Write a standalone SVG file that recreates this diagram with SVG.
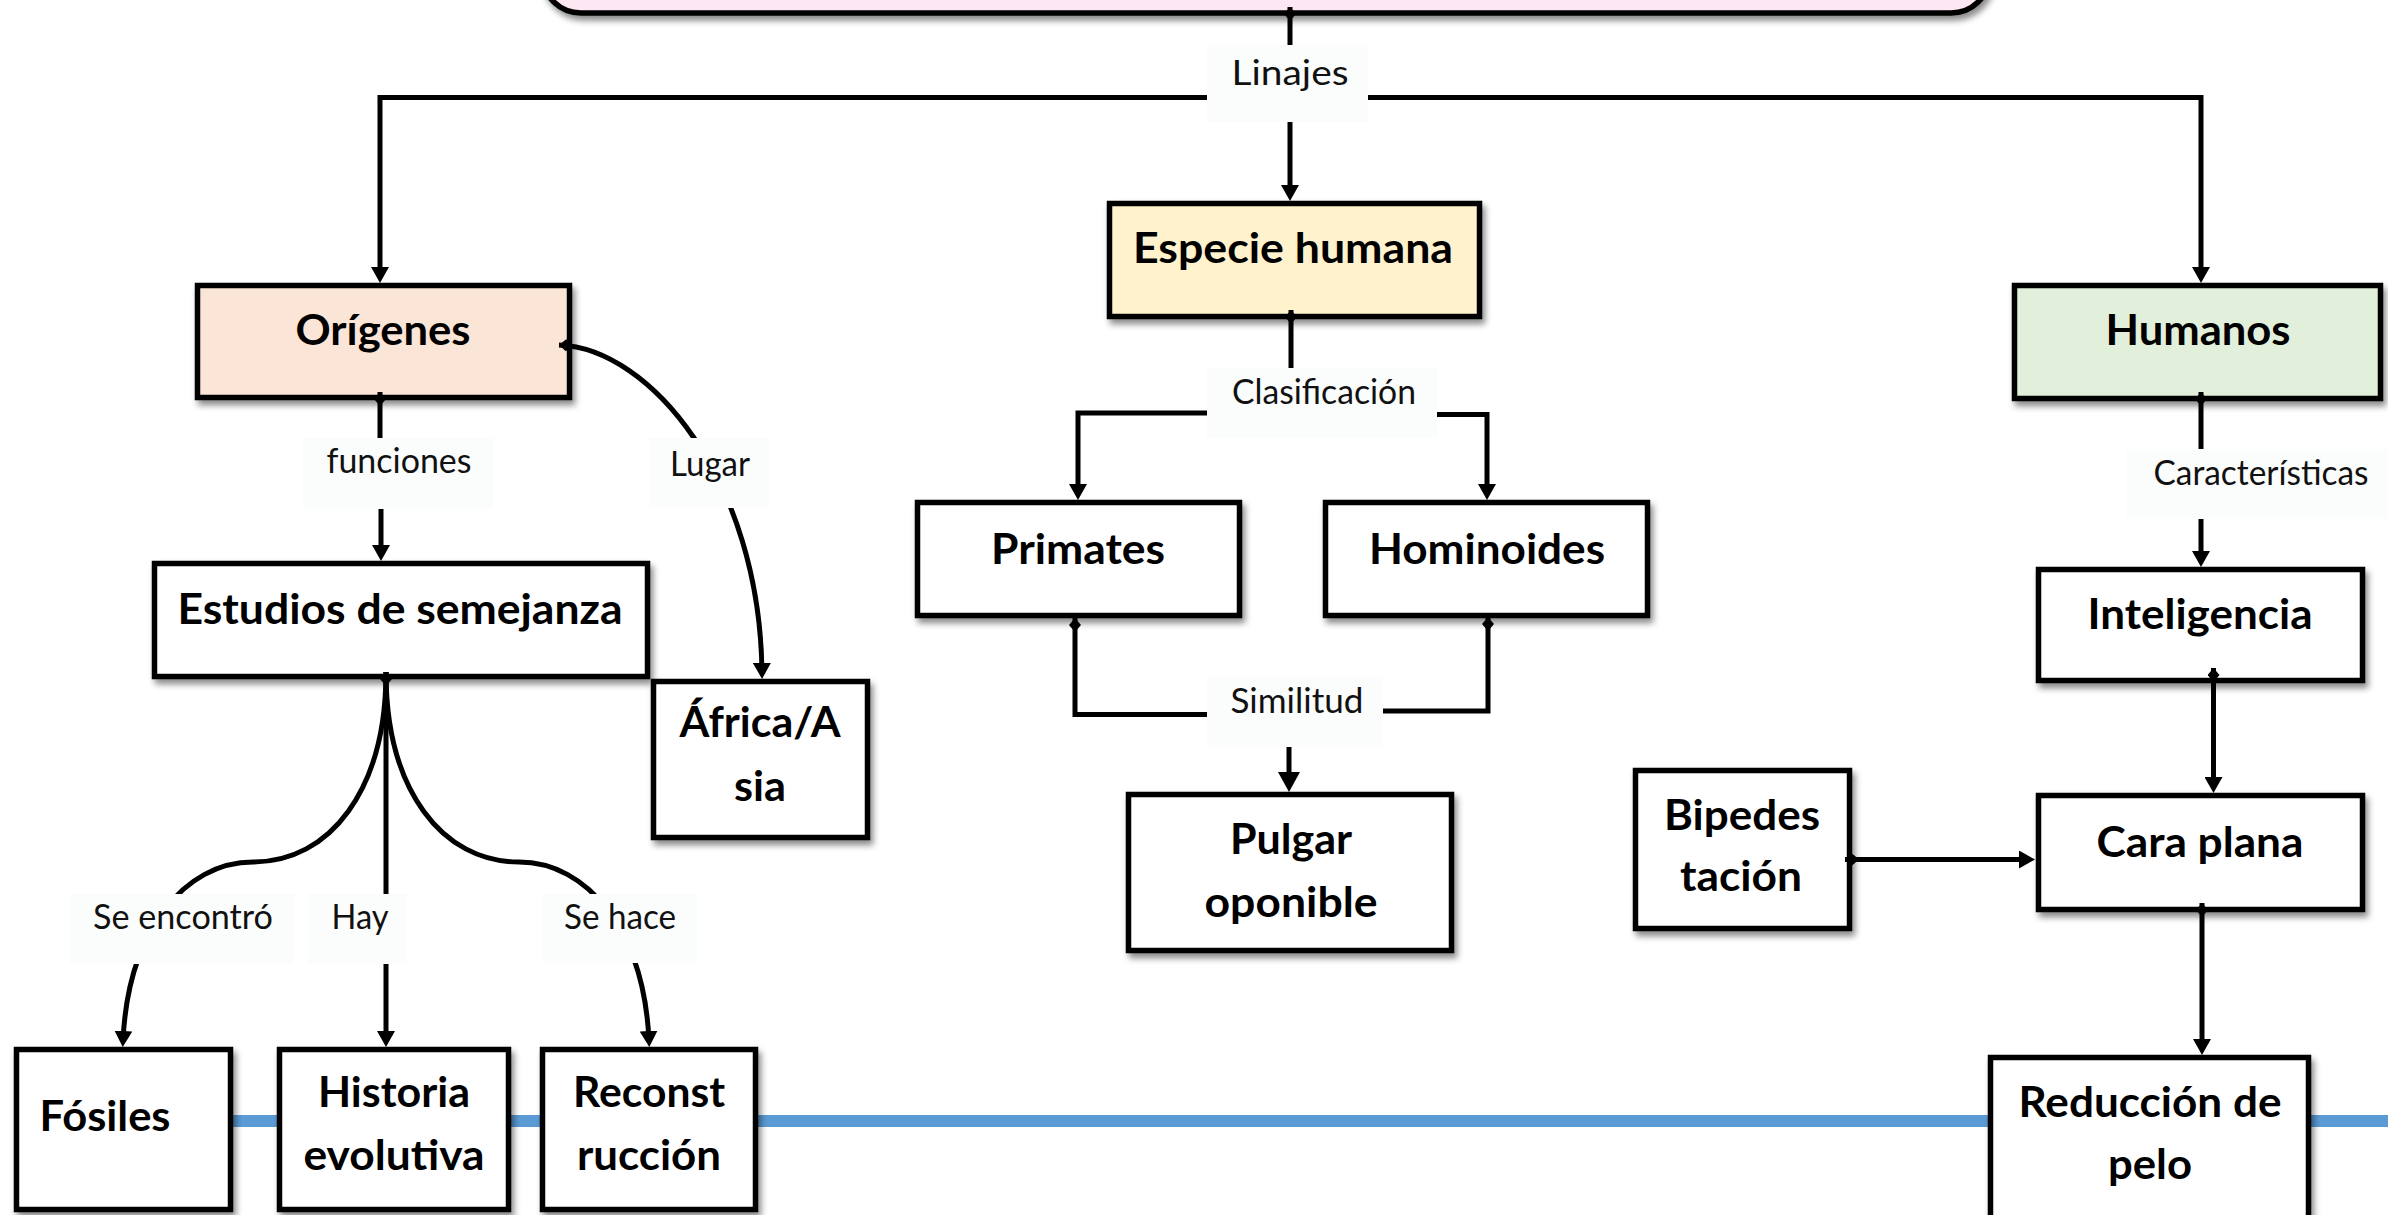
<svg xmlns="http://www.w3.org/2000/svg" width="2388" height="1215" viewBox="0 0 2388 1215">
<defs>
<style>
.node{stroke:#000;stroke-width:5.5;filter:url(#sh)}
.w{fill:#fff}
.nt{font-family:Lato,"Liberation Sans",sans-serif;font-weight:bold;font-size:42px;fill:#000;text-anchor:middle}
.c{fill:none;stroke:#000;stroke-width:5}
.lb{fill:#FBFCFC}
.lt{font-family:Lato,"Liberation Sans",sans-serif;font-size:35px;fill:#111;text-anchor:middle}
</style>
<filter id="sh" x="-10%" y="-10%" width="130%" height="140%">
<feDropShadow dx="3" dy="5" stdDeviation="3" flood-color="#000" flood-opacity="0.45"/>
</filter>
<marker id="ar" markerUnits="userSpaceOnUse" viewBox="0 0 16 18" refX="10" refY="9" markerWidth="16" markerHeight="18" orient="auto">
<path d="M0,0 L16,9 L0,18 z" fill="#000"/>
</marker>
<marker id="arL" markerUnits="userSpaceOnUse" viewBox="0 0 20 22" refX="10" refY="11" markerWidth="20" markerHeight="22" orient="auto">
<path d="M0,0 L20,11 L0,22 z" fill="#000"/>
</marker>
<marker id="dm" markerUnits="userSpaceOnUse" viewBox="0 0 14 12" refX="0" refY="6" markerWidth="14" markerHeight="12" orient="auto">
<path d="M0,6 L7,0 L14,6 L7,12 z" fill="#000"/>
</marker>
</defs>
<rect width="2388" height="1215" fill="#fff"/>
<line id="timeline" x1="20" y1="1121" x2="2388" y2="1121" stroke="#5B9BD5" stroke-width="12"/>

<g id="top">
<rect class="node" x="543" y="-60" width="1446" height="73" rx="38" fill="#FDE7F3" stroke-width="6"/>
</g>
<g id="origenes"><rect class="node" x="197.5" y="285.5" width="372" height="112" fill="#FBE5D6"/><text class="nt" x="383" y="345" textLength="175" lengthAdjust="spacingAndGlyphs">Orígenes</text></g>
<g id="especie"><rect class="node" x="1109.5" y="203.5" width="370" height="113" fill="#FFF2CC"/><text class="nt" x="1293" y="263" textLength="320" lengthAdjust="spacingAndGlyphs">Especie humana</text></g>
<g id="humanos"><rect class="node" x="2014.5" y="285.5" width="366" height="113" fill="#E2EFDA"/><text class="nt" x="2198" y="345" textLength="185" lengthAdjust="spacingAndGlyphs">Humanos</text></g>
<g id="estudios"><rect class="node w" x="154.5" y="563.5" width="493" height="113"/><text class="nt" x="400" y="624" textLength="445" lengthAdjust="spacingAndGlyphs">Estudios de semejanza</text></g>
<g id="africa"><rect class="node w" x="653.5" y="681.5" width="214" height="156"/><text class="nt" x="760" y="737" textLength="161" lengthAdjust="spacingAndGlyphs">África/A</text><text class="nt" x="760" y="801" textLength="52" lengthAdjust="spacingAndGlyphs">sia</text></g>
<g id="fosiles"><rect class="node w" x="16.5" y="1049.5" width="214" height="160"/><text class="nt" x="105" y="1131" textLength="131" lengthAdjust="spacingAndGlyphs">Fósiles</text></g>
<g id="historia"><rect class="node w" x="279.5" y="1049.5" width="229" height="160"/><text class="nt" x="394" y="1107" textLength="152" lengthAdjust="spacingAndGlyphs">Historia</text><text class="nt" x="394" y="1170" textLength="181" lengthAdjust="spacingAndGlyphs">evolutiva</text></g>
<g id="reconstruccion"><rect class="node w" x="542.5" y="1049.5" width="213" height="160"/><text class="nt" x="649" y="1107" textLength="152" lengthAdjust="spacingAndGlyphs">Reconst</text><text class="nt" x="649" y="1170" textLength="144" lengthAdjust="spacingAndGlyphs">rucción</text></g>
<g id="primates"><rect class="node w" x="917.5" y="502.5" width="322" height="113"/><text class="nt" x="1078" y="564" textLength="174" lengthAdjust="spacingAndGlyphs">Primates</text></g>
<g id="hominoides"><rect class="node w" x="1325.5" y="502.5" width="322" height="113"/><text class="nt" x="1487" y="564" textLength="236" lengthAdjust="spacingAndGlyphs">Hominoides</text></g>
<g id="pulgar"><rect class="node w" x="1128.5" y="794.5" width="323" height="156"/><text class="nt" x="1291" y="854" textLength="122" lengthAdjust="spacingAndGlyphs">Pulgar</text><text class="nt" x="1291" y="917" textLength="173" lengthAdjust="spacingAndGlyphs">oponible</text></g>
<g id="bipedestacion"><rect class="node w" x="1635.5" y="770.5" width="214" height="158"/><text class="nt" x="1742" y="830" textLength="156" lengthAdjust="spacingAndGlyphs">Bipedes</text><text class="nt" x="1741" y="891" textLength="122" lengthAdjust="spacingAndGlyphs">tación</text></g>
<g id="inteligencia"><rect class="node w" x="2038.5" y="569.5" width="324" height="111"/><text class="nt" x="2200" y="629" textLength="225" lengthAdjust="spacingAndGlyphs">Inteligencia</text></g>
<g id="caraplana"><rect class="node w" x="2038.5" y="795.5" width="324" height="114"/><text class="nt" x="2200" y="857" textLength="207" lengthAdjust="spacingAndGlyphs">Cara plana</text></g>
<g id="reduccion"><rect class="node w" x="1990.5" y="1057.5" width="318" height="170"/><text class="nt" x="2150" y="1117" textLength="263" lengthAdjust="spacingAndGlyphs">Reducción de</text><text class="nt" x="2150" y="1179" textLength="84" lengthAdjust="spacingAndGlyphs">pelo</text></g>

<g id="connectors">
<path class="c" d="M1290,7 V45" stroke-width="6" marker-start="url(#dm)"/>
<path class="c" d="M1207,97.5 H380 V277" marker-end="url(#ar)"/>
<path class="c" d="M1368,97.5 H2201 V277" marker-end="url(#ar)"/>
<path class="c" d="M1290,122 V195" marker-end="url(#ar)"/>
<path class="c" d="M380,392 V438" marker-start="url(#dm)"/>
<path class="c" d="M381,509 V555" marker-end="url(#ar)"/>
<path class="c" d="M559,345 C650,348 760,480 762,673" marker-start="url(#dm)" marker-end="url(#ar)"/>
<path class="c" d="M386,672 C386,790 330,862 253,862 C185,862 128,930 123,1041" marker-start="url(#dm)" marker-end="url(#ar)"/>
<path class="c" d="M386,672 V1041" marker-end="url(#ar)"/>
<path class="c" d="M386,672 C386,790 442,862 519,862 C587,862 644,930 649,1041" marker-end="url(#ar)"/>
<path class="c" d="M1291,310 V368" marker-start="url(#dm)"/>
<path class="c" d="M1207,413 H1078 V494" marker-end="url(#ar)"/>
<path class="c" d="M1437,414.5 H1487 V494" marker-end="url(#ar)"/>
<path class="c" d="M1075,618 V714.5 H1207" marker-start="url(#dm)"/>
<path class="c" d="M1488,617 V711 H1383" marker-start="url(#dm)"/>
<path class="c" d="M1289,747 V782" stroke-width="10" marker-end="url(#arL)"/>
<path class="c" d="M2201,392 V449" marker-start="url(#dm)"/>
<path class="c" d="M2201,519 V561" marker-end="url(#ar)"/>
<path class="c" d="M2213.5,668 V787" marker-start="url(#dm)" marker-end="url(#ar)"/>
<path class="c" d="M1845,859.5 H2029" marker-start="url(#dm)" marker-end="url(#ar)"/>
<path class="c" d="M2202,903 V1049" marker-start="url(#dm)" marker-end="url(#ar)"/>
</g>

<g id="labels">
<rect class="lb" x="1207" y="45" width="161" height="77"/><text class="lt" x="1290" y="85" textLength="117" lengthAdjust="spacingAndGlyphs">Linajes</text>
<rect class="lb" x="303" y="438" width="190" height="71"/><text class="lt" x="399" y="473" textLength="145" lengthAdjust="spacingAndGlyphs">funciones</text>
<rect class="lb" x="649" y="438" width="120" height="70"/><text class="lt" x="710" y="476" textLength="80" lengthAdjust="spacingAndGlyphs">Lugar</text>
<rect class="lb" x="70" y="894" width="224" height="70"/><text class="lt" x="183" y="929" textLength="180" lengthAdjust="spacingAndGlyphs">Se encontró</text>
<rect class="lb" x="308" y="894" width="99" height="70"/><text class="lt" x="360" y="929" textLength="57" lengthAdjust="spacingAndGlyphs">Hay</text>
<rect class="lb" x="542" y="894" width="155" height="69"/><text class="lt" x="620" y="929" textLength="112" lengthAdjust="spacingAndGlyphs">Se hace</text>
<rect class="lb" x="1207" y="368" width="230" height="70"/><text class="lt" x="1324" y="404" textLength="184" lengthAdjust="spacingAndGlyphs">Clasificación</text>
<rect class="lb" x="1207" y="676" width="176" height="71"/><text class="lt" x="1297" y="713" textLength="133" lengthAdjust="spacingAndGlyphs">Similitud</text>
<rect class="lb" x="2127" y="449" width="261" height="70"/><text class="lt" x="2261" y="485" textLength="215" lengthAdjust="spacingAndGlyphs">Características</text>
</g>
</svg>
